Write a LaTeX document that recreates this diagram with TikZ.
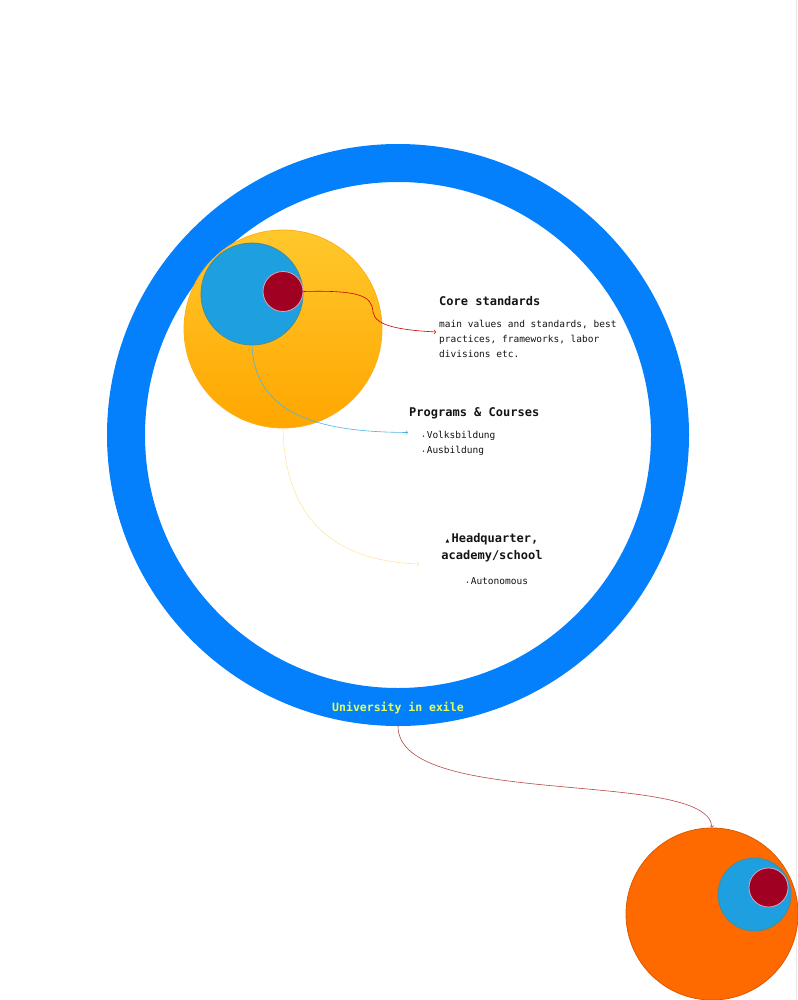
\documentclass[tikz,border=0pt]{standalone}
\usepackage{fontspec}
\setmonofont{DejaVu Sans Mono}
\newfontfamily\symfont{DejaVu Sans}
\usetikzlibrary{positioning}

\definecolor{ringblue}{RGB}{5,128,252}
\definecolor{sunhi}{RGB}{255,200,44}
\definecolor{sunlo}{RGB}{255,166,0}
\definecolor{skyblue}{RGB}{30,160,224}
\definecolor{skyedge}{RGB}{70,140,150}
\definecolor{wine}{RGB}{160,0,34}
\definecolor{wineedge}{RGB}{225,160,180}
\definecolor{tangerine}{RGB}{255,106,0}
\definecolor{lime}{RGB}{225,255,95}
\definecolor{ink}{RGB}{20,20,20}

\begin{document}
\begin{tikzpicture}[x = 1pt, y = -1pt,
  disc/.style = {circle, inner sep = 0pt, line width = 0.8pt},
  title/.style = {font = \ttfamily\bfseries\fontsize{12}{17}\selectfont, text = ink, inner sep = 0pt},
  small/.style = {font = \ttfamily\fontsize{9.5}{15}\selectfont, text = ink, inner sep = 0pt, align = left}]

\useasboundingbox (0, 0) rectangle (797, 1000);
\draw[black!8] (796, 0) -- (796, 1000);

% the big ring
\node[circle, draw = ringblue, line width = 38pt, minimum size = 544pt, inner sep = 0pt] (exile) at (398, 435) {};
\node[font = \ttfamily\bfseries\fontsize{11.5}{14}\selectfont, text = lime] (exilelabel) at (398, 708) {University in exile};

% nested circles inside
\node[disc, draw = sunlo!90, top color = sunhi, bottom color = sunlo, minimum size = 198pt] (sun) at (283, 329) {};
\node[disc, draw = skyedge, fill = skyblue, minimum size = 102pt] (sky) at (252, 294) {};
\node[disc, draw = wineedge, fill = wine, minimum size = 40pt] (core) at (283, 291.5) {};

% texts
\node[title, anchor = west] (coretitle) at (439, 301) {Core standards};
\node[small, anchor = north west] (coretext) at (439, 320) {main values and standards, best\\practices, frameworks, labor\\divisions etc.};

\node[title, anchor = west] (progtitle) at (409, 413) {Programs \& Courses};
\node[small, anchor = north west] (progtext) at (422, 431) {{\fontsize{5}{5}\selectfont•}\,Volksbildung\\{\fontsize{5}{5}\selectfont•}\,Ausbildung};

\node[title, align = center] (hqtitle) at (492, 548) {{\symfont\fontsize{5}{5}\selectfont▲}\,Headquarter,\\academy/school};
\node[small, anchor = west] (hqtext) at (466, 581) {{\fontsize{5}{5}\selectfont•}\,Autonomous};

\coordinate (coreend) at (436, 332);
\coordinate (progend) at (408, 432.5);
\coordinate (hqend) at (419, 564);

\draw[->, red!80!black, line width = 0.6pt] (core.east) .. controls (360, 290) and (372, 296) .. (373, 312)
  .. controls (375, 326) and (400, 330) .. (coreend);
\draw[->, skyblue!80, line width = 0.6pt] (sky.south) .. controls (255, 420) and (330, 432) .. (progend);
\draw[->, sunhi!45, line width = 0.6pt] (sun.south) .. controls (285, 540) and (360, 562) .. (hqend);

% the small copy below
\node[disc, draw = tangerine!85!black, fill = tangerine, minimum size = 172pt] (branch) at (712, 914) {};
\node[disc, draw = skyedge, fill = skyblue, minimum size = 73pt] (branchsky) at (754.5, 894.5) {};
\node[disc, draw = wineedge, fill = wine, minimum size = 39pt] (branchcore) at (768.5, 887.5) {};

\draw[->, red!45!gray, line width = 0.6pt] (exile.south) .. controls (398, 810) and (708, 768) .. (branch.north);
\end{tikzpicture}
\end{document}
